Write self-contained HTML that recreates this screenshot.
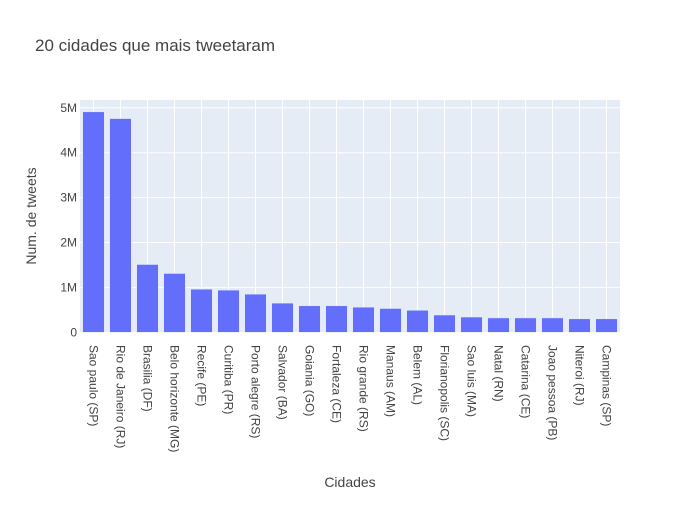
<!DOCTYPE html>
<html><head><meta charset="utf-8"><style>body{margin:0;background:#fff}svg{font-family:"Liberation Sans",Arial,sans-serif}</style></head>
<body>
<svg id="chart" width="700" height="500" xmlns="http://www.w3.org/2000/svg">
<rect width="700" height="500" fill="#fff"/>
<text x="35" y="51" font-size="17" fill="#444">20 cidades que mais tweetaram</text>
<rect x="80" y="100" width="540" height="232" fill="#e5ecf6"/>
<g id="grid"></g><g id="bars"></g><g id="xt"></g><g id="yt"></g>
<text x="350" y="487" font-size="14" fill="#444" text-anchor="middle">Cidades</text>
<text transform="translate(36,216) rotate(-90)" font-size="14" fill="#444" text-anchor="middle">Num. de tweets</text>
</svg>
<script>
const categories=["Sao paulo (SP)","Rio de Janeiro (RJ)","Brasilia (DF)","Belo horizonte (MG)","Recife (PE)","Curitiba (PR)","Porto alegre (RS)","Salvador (BA)","Goiania (GO)","Fortaleza (CE)","Rio grande (RS)","Manaus (AM)","Belem (AL)","Florianopolis (SC)","Sao luis (MA)","Natal (RN)","Catarina (CE)","Joao pessoa (PB)","Niteroi (RJ)","Campinas (SP)"];
const values=[4.91e6,4.76e6,1.51e6,1.31e6,0.96e6,0.94e6,0.85e6,0.65e6,0.59e6,0.59e6,0.56e6,0.53e6,0.49e6,0.385e6,0.34e6,0.32e6,0.32e6,0.32e6,0.30e6,0.30e6];
const yTicks=[0,1e6,2e6,3e6,4e6,5e6];
const yTickLabels=["0","1M","2M","3M","4M","5M"];
const NS="http://www.w3.org/2000/svg";
const X0=80,X1=620,Y0=332.3,PPM=44.9/1e6;
const step=(X1-X0)/categories.length;
const xc=i=>X0+step*(i+0.5);
const y=v=>Y0-v*PPM;
function mk(t,a,p){const e=document.createElementNS(NS,t);for(const k in a)e.setAttribute(k,a[k]);p.appendChild(e);return e;}
const grid=document.getElementById('grid'),bars=document.getElementById('bars'),xt=document.getElementById('xt'),yt=document.getElementById('yt');
yTicks.forEach((t,i)=>{
 if(t>0){const l=mk('line',{x1:X0,x2:X1,y1:y(t),y2:y(t),stroke:'#fff','stroke-width':1},grid);
 
 }
 const tx=mk('text',{x:X0-3,y:y(t)+4,'font-size':12,fill:'#444','text-anchor':'end'},yt);tx.textContent=yTickLabels[i];
 
 
});
categories.forEach((c,i)=>{
 const g=mk('line',{x1:xc(i),x2:xc(i),y1:100,y2:Y0,stroke:'#fff','stroke-width':1},grid);
 
 
 const w=step*0.8;
 const b=mk('rect',{x:xc(i)-w/2,y:y(values[i]),width:w,height:Y0-y(values[i]),fill:'#636efa',stroke:'#e5ecf6','stroke-width':0.5},bars);
 
 
 const t=mk('text',{transform:`translate(${xc(i)-4},345) rotate(90)`,'font-size':12,fill:'#444'},xt);t.textContent=c;
 
 
});
</script>
</body></html>
